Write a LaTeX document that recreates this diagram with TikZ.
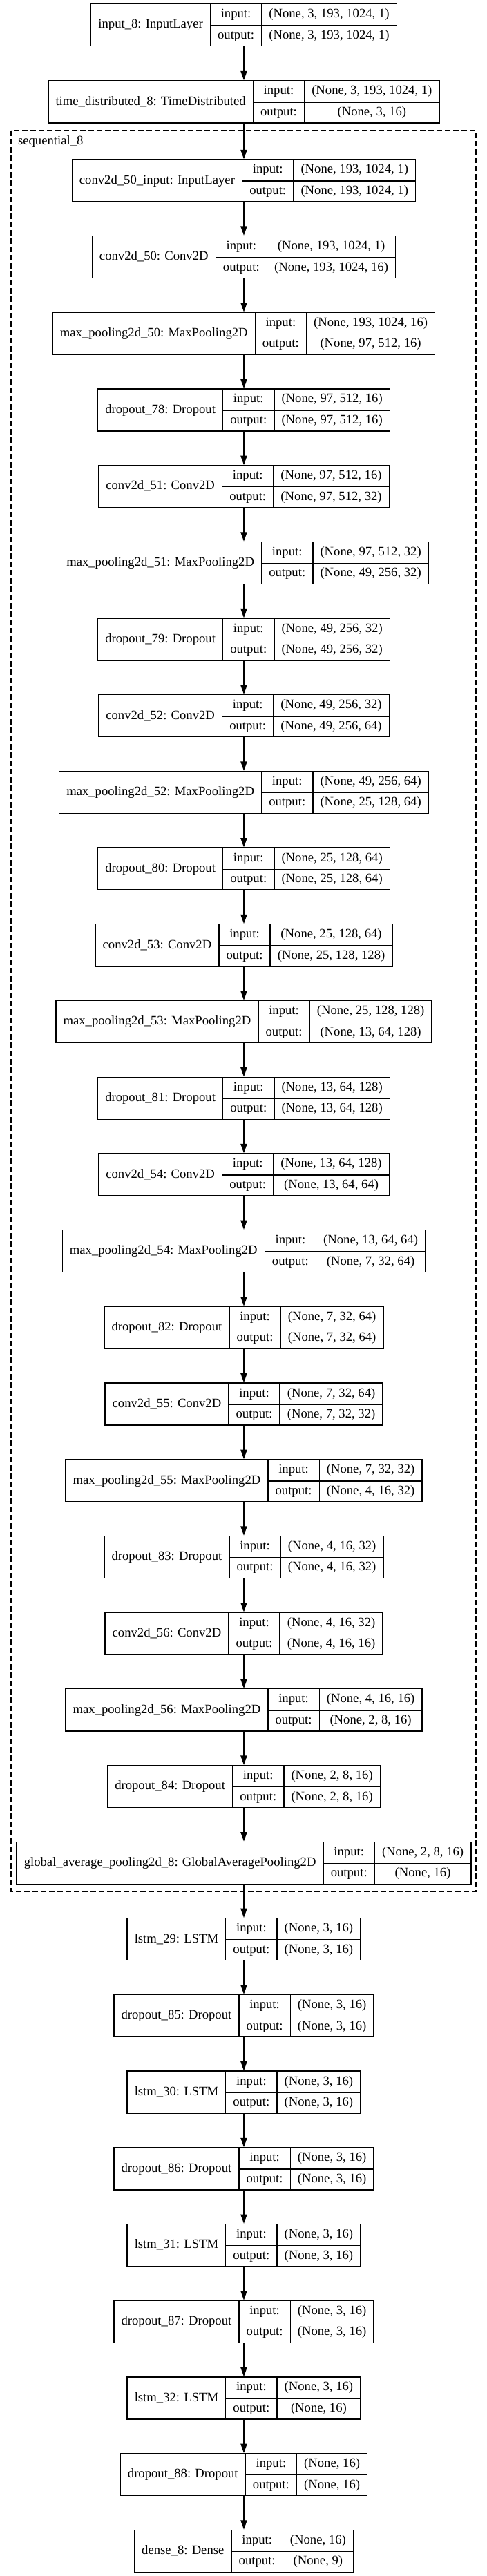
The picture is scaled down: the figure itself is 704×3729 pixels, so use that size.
\documentclass[tikz,border=0pt]{standalone}
\usepackage{fontspec}
\setmainfont{Liberation Serif}
\usetikzlibrary{arrows.meta}

\setlength{\tabcolsep}{8pt}
\setlength{\arrayrulewidth}{1pt}
\newcommand{\rs}{\rule[-7.85pt]{0pt}{22.9pt}}
\newcommand{\lay}[3]{\begin{tabular}{c|c|c}
\rs\raisebox{-11.45pt}[0pt][0pt]{#1} & input: & #2\\ \cline{2-3}
\rs & output: & #3
\end{tabular}}

\tikzset{
  layer/.style={draw, line width=1pt, inner sep=0pt, font=\fontsize{14pt}{16.8pt}\selectfont},
}

\begin{document}
\begin{tikzpicture}[x=0.75pt, y=-0.75pt, line width=1pt, >={Triangle[length=10pt,width=7pt]}]
            \useasboundingbox (0,0) rectangle (704,3729);

            \node[layer] (inp) at (353,36.2) {\lay{input\_8: InputLayer}{(None, 3, 193, 1024, 1)}{(None, 3, 193, 1024, 1)}};
            \node[layer] (td) at (353,147.3) {\lay{time\_distributed\_8: TimeDistributed}{(None, 3, 193, 1024, 1)}{(None, 3, 16)}};

            % sequential_8
            \draw[dash pattern=on 6pt off 3pt] (16,189) rectangle (689,2738);
            \node[anchor=base west, font=\fontsize{14pt}{16.8pt}\selectfont] (seq) at (21,209) {sequential\_8};

            \node[layer] (c50in) at (353,261.3) {\lay{conv2d\_50\_input: InputLayer}{(None, 193, 1024, 1)}{(None, 193, 1024, 1)}};
            \node[layer] (c50) at (353,372.0) {\lay{conv2d\_50: Conv2D}{(None, 193, 1024, 1)}{(None, 193, 1024, 16)}};
            \node[layer] (mp50) at (353,482.7) {\lay{max\_pooling2d\_50: MaxPooling2D}{(None, 193, 1024, 16)}{(None, 97, 512, 16)}};
            \node[layer] (do78) at (353,593.4) {\lay{dropout\_78: Dropout}{(None, 97, 512, 16)}{(None, 97, 512, 16)}};
            \node[layer] (c51) at (353,704.1) {\lay{conv2d\_51: Conv2D}{(None, 97, 512, 16)}{(None, 97, 512, 32)}};
            \node[layer] (mp51) at (353,814.8) {\lay{max\_pooling2d\_51: MaxPooling2D}{(None, 97, 512, 32)}{(None, 49, 256, 32)}};
            \node[layer] (do79) at (353,925.5) {\lay{dropout\_79: Dropout}{(None, 49, 256, 32)}{(None, 49, 256, 32)}};
            \node[layer] (c52) at (353,1036.2) {\lay{conv2d\_52: Conv2D}{(None, 49, 256, 32)}{(None, 49, 256, 64)}};
            \node[layer] (mp52) at (353,1146.9) {\lay{max\_pooling2d\_52: MaxPooling2D}{(None, 49, 256, 64)}{(None, 25, 128, 64)}};
            \node[layer] (do80) at (353,1257.6) {\lay{dropout\_80: Dropout}{(None, 25, 128, 64)}{(None, 25, 128, 64)}};
            \node[layer] (c53) at (353,1368.3) {\lay{conv2d\_53: Conv2D}{(None, 25, 128, 64)}{(None, 25, 128, 128)}};
            \node[layer] (mp53) at (353,1479.0) {\lay{max\_pooling2d\_53: MaxPooling2D}{(None, 25, 128, 128)}{(None, 13, 64, 128)}};
            \node[layer] (do81) at (353,1589.7) {\lay{dropout\_81: Dropout}{(None, 13, 64, 128)}{(None, 13, 64, 128)}};
            \node[layer] (c54) at (353,1700.4) {\lay{conv2d\_54: Conv2D}{(None, 13, 64, 128)}{(None, 13, 64, 64)}};
            \node[layer] (mp54) at (353,1811.1) {\lay{max\_pooling2d\_54: MaxPooling2D}{(None, 13, 64, 64)}{(None, 7, 32, 64)}};
            \node[layer] (do82) at (353,1921.8) {\lay{dropout\_82: Dropout}{(None, 7, 32, 64)}{(None, 7, 32, 64)}};
            \node[layer] (c55) at (353,2032.5) {\lay{conv2d\_55: Conv2D}{(None, 7, 32, 64)}{(None, 7, 32, 32)}};
            \node[layer] (mp55) at (353,2143.2) {\lay{max\_pooling2d\_55: MaxPooling2D}{(None, 7, 32, 32)}{(None, 4, 16, 32)}};
            \node[layer] (do83) at (353,2253.9) {\lay{dropout\_83: Dropout}{(None, 4, 16, 32)}{(None, 4, 16, 32)}};
            \node[layer] (c56) at (353,2364.6) {\lay{conv2d\_56: Conv2D}{(None, 4, 16, 32)}{(None, 4, 16, 16)}};
            \node[layer] (mp56) at (353,2475.3) {\lay{max\_pooling2d\_56: MaxPooling2D}{(None, 4, 16, 16)}{(None, 2, 8, 16)}};
            \node[layer] (do84) at (353,2586.0) {\lay{dropout\_84: Dropout}{(None, 2, 8, 16)}{(None, 2, 8, 16)}};
            \node[layer] (gap) at (353,2696.7) {\lay{global\_average\_pooling2d\_8: GlobalAveragePooling2D}{(None, 2, 8, 16)}{(None, 16)}};

            \node[layer] (l29) at (353,2807.2) {\lay{lstm\_29: LSTM}{(None, 3, 16)}{(None, 3, 16)}};
            \node[layer] (do85) at (353,2917.9) {\lay{dropout\_85: Dropout}{(None, 3, 16)}{(None, 3, 16)}};
            \node[layer] (l30) at (353,3028.6) {\lay{lstm\_30: LSTM}{(None, 3, 16)}{(None, 3, 16)}};
            \node[layer] (do86) at (353,3139.3) {\lay{dropout\_86: Dropout}{(None, 3, 16)}{(None, 3, 16)}};
            \node[layer] (l31) at (353,3250.0) {\lay{lstm\_31: LSTM}{(None, 3, 16)}{(None, 3, 16)}};
            \node[layer] (do87) at (353,3360.7) {\lay{dropout\_87: Dropout}{(None, 3, 16)}{(None, 3, 16)}};
            \node[layer] (l32) at (353,3471.4) {\lay{lstm\_32: LSTM}{(None, 3, 16)}{(None, 16)}};
            \node[layer] (do88) at (353,3582.1) {\lay{dropout\_88: Dropout}{(None, 16)}{(None, 16)}};
            \node[layer] (dense) at (353,3692.8) {\lay{dense\_8: Dense}{(None, 16)}{(None, 9)}};

            \draw[->] (inp) -- (td); \draw[->] (td) -- (c50in);
            \draw[->] (c50in) -- (c50); \draw[->] (c50) -- (mp50); \draw[->] (mp50) -- (do78);
            \draw[->] (do78) -- (c51); \draw[->] (c51) -- (mp51); \draw[->] (mp51) -- (do79);
            \draw[->] (do79) -- (c52); \draw[->] (c52) -- (mp52); \draw[->] (mp52) -- (do80);
            \draw[->] (do80) -- (c53); \draw[->] (c53) -- (mp53); \draw[->] (mp53) -- (do81);
            \draw[->] (do81) -- (c54); \draw[->] (c54) -- (mp54); \draw[->] (mp54) -- (do82);
            \draw[->] (do82) -- (c55); \draw[->] (c55) -- (mp55); \draw[->] (mp55) -- (do83);
            \draw[->] (do83) -- (c56); \draw[->] (c56) -- (mp56); \draw[->] (mp56) -- (do84);
            \draw[->] (do84) -- (gap); \draw[->] (gap) -- (l29);
            \draw[->] (l29) -- (do85); \draw[->] (do85) -- (l30); \draw[->] (l30) -- (do86);
            \draw[->] (do86) -- (l31); \draw[->] (l31) -- (do87); \draw[->] (do87) -- (l32);
            \draw[->] (l32) -- (do88); \draw[->] (do88) -- (dense);
        \end{tikzpicture}
\end{document}
